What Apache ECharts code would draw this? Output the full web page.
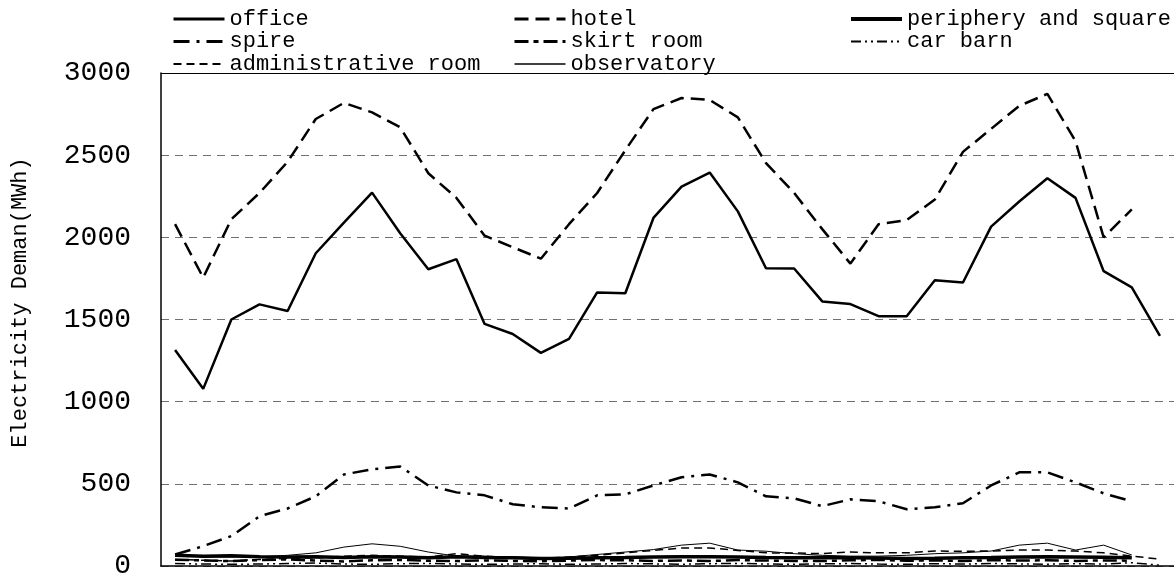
<!DOCTYPE html>
<html><head><meta charset="utf-8">
<script src="https://cdn.jsdelivr.net/npm/echarts@6/dist/echarts.min.js"></script>
<style>html,body{margin:0;padding:0;background:#fff}#c{width:1174px;height:580px}</style>
</head><body><div id="c"></div>
<script>
const months = ['1','2','3','4','5','6','7','8','9','10','11','12','13','14','15','16','17','18','19','20','21','22','23','24','25','26','27','28','29','30','31','32','33','34','35','36'];
const yTicks = [0, 500, 1000, 1500, 2000, 2500, 3000];
const office = [1315,1078,1500,1592,1552,1903,2090,2272,2025,1806,1867,1473,1412,1297,1382,1665,1660,2118,2309,2394,2158,1812,1810,1610,1594,1520,1520,1739,1725,2065,2218,2360,2240,1794,1695,1400];
const hotel = [2080,1755,2110,2270,2460,2720,2818,2760,2670,2390,2240,2010,1940,1870,2080,2270,2530,2780,2848,2836,2730,2452,2270,2050,1840,2080,2105,2230,2520,2660,2800,2873,2585,2000,2170,null];
const periphery = [65,60,62,56,55,57,52,56,55,50,56,52,50,46,47,50,52,55,56,57,55,52,50,51,50,49,46,47,50,51,55,56,55,54,50,null];
const spire = [70,121,182,303,350,424,557,588,606,490,448,430,376,357,350,430,436,490,540,557,509,424,412,364,406,394,345,357,382,490,570,570,509,442,394,null];
const skirt = [38,34,30,36,40,33,28,35,37,32,30,34,31,29,33,36,35,31,34,30,36,33,31,30,35,37,32,34,30,36,33,35,31,34,32,null];
const carbarn = [15,12,10,12,15,18,12,10,14,16,12,10,12,14,10,12,15,13,11,14,16,12,10,13,15,12,10,14,12,15,13,11,14,12,20,5];
const admin = [40,35,30,40,45,50,60,65,60,55,75,60,50,45,55,65,80,95,109,110,95,80,79,75,85,80,80,91,90,91,97,97,91,80,60,42];
const observatory = [70,55,55,55,65,80,115,135,120,85,60,60,55,50,55,70,85,100,127,139,97,90,75,65,60,60,65,75,80,91,127,139,97,127,67,null];

const MONO = '"Liberation Mono","DejaVu Sans Mono",monospace';
const styles = {
  'office': { width: 2.5, type: 'solid' },
  'hotel': { width: 2.5, type: [14, 7] },
  'periphery and square': { width: 3.5, type: 'solid' },
  'spire': { width: 2.5, type: [16, 7, 3, 7] },
  'skirt room': { width: 2.5, type: [14, 5, 5, 5] },
  'car barn': { width: 1.5, type: [10, 4, 2, 4, 2, 4] },
  'administrative room': { width: 1.5, type: [8, 5] },
  'observatory': { width: 1, type: 'solid' }
};
function s(name, data, z) {
  return { name, type: 'line', data, symbol: 'none', z: z || 2,
    lineStyle: { color: '#000', width: styles[name].width, type: styles[name].type },
    itemStyle: { color: '#000' } };
}
const legendText = { fontFamily: MONO, fontSize: 22, color: '#000', lineHeight: 20 };
function lg(names, left) {
  return { data: names.map(n => ({ name: n,
      lineStyle: { color: '#000', width: Math.min(styles[n].width + 0.5, 4), type: styles[n].type } })),
    orient: 'vertical', left, top: 8, itemWidth: 51, itemHeight: 14,
    itemGap: 0.5, padding: 0, textStyle: legendText,
    itemStyle: { opacity: 0, borderWidth: 0 } };
}
const chart = echarts.init(document.getElementById('c'), null, { renderer: 'canvas' });
chart.setOption({
  animation: false,
  backgroundColor: '#fff',
  grid: { left: 161, right: 0, top: 73, bottom: 12, containLabel: false },
  legend: [
    lg(['office', 'spire', 'administrative room'], 172),
    lg(['hotel', 'skirt room', 'observatory'], 513),
    lg(['periphery and square', 'car barn'], 849)
  ],
  xAxis: [
    { type: 'category', data: months, boundaryGap: true,
      axisLine: { lineStyle: { color: '#000', width: 1.5 } }, axisTick: { show: false },
      axisLabel: { show: false }, splitLine: { show: false } },
    { type: 'category', data: months, position: 'top', boundaryGap: true,
      axisLine: { lineStyle: { color: '#000', width: 1 } }, axisTick: { show: false },
      axisLabel: { show: false }, splitLine: { show: false } }
  ],
  yAxis: {
    type: 'value', min: yTicks[0], max: yTicks[yTicks.length - 1], interval: 500,
    name: 'Electricity Deman(MWh)', nameLocation: 'middle', nameGap: 130,
    nameTextStyle: { fontFamily: MONO, fontSize: 22, color: '#000', padding: [0, 0, 0, 34] },
    axisLine: { show: true, lineStyle: { color: '#000', width: 1.5 } },
    axisTick: { show: false },
    axisLabel: { fontFamily: MONO, fontSize: 28, color: '#000', margin: 30,
      formatter: function (v) { return String(v); } },
    splitLine: { show: true, lineStyle: { color: '#707070', width: 1, type: [8, 6] } }
  },
  series: [
    s('office', office, 5),
    s('hotel', hotel, 5),
    s('periphery and square', periphery, 3),
    s('spire', spire, 4),
    s('skirt room', skirt, 3),
    s('car barn', carbarn, 3),
    s('administrative room', admin, 3),
    s('observatory', observatory, 3)
  ]
});
</script></body></html>
